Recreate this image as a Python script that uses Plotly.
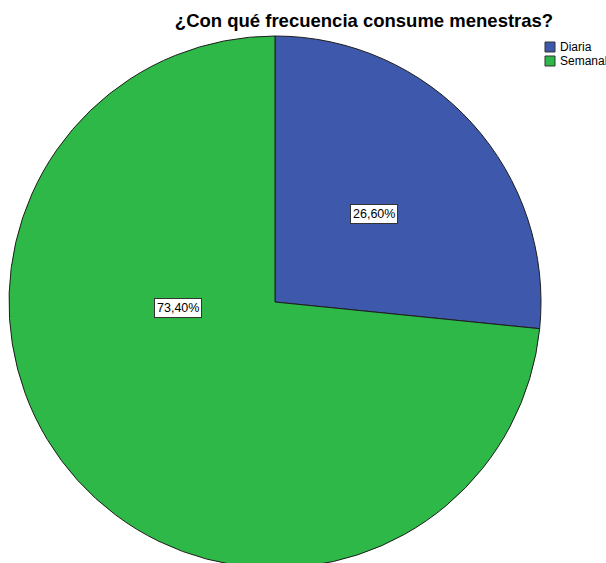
import plotly.graph_objects as go

# Survey answers: how often lentils/legumes ("menestras") are eaten
categories = ["Diaria", "Semanal"]
percentages = [26.6, 73.4]
colors = ["#3E58AC", "#2EB848"]

W, H = 606, 580
FONT = "Liberation Sans, Arial, Helvetica, sans-serif"


def px_x(x):
    return x / W


def px_y(y):
    return 1 - y / H


# Pie occupies a square of 532 px centred at (275, 302)
cx, cy, r = 275, 302, 266
domain_x = [px_x(cx - r), px_x(cx + r)]
domain_y = [px_y(cy + r), px_y(cy - r)]

fig = go.Figure(
    go.Pie(
        labels=categories,
        values=percentages,
        sort=False,
        direction="clockwise",
        rotation=0,
        marker=dict(colors=colors, line=dict(color="#1e1e1e", width=1)),
        textinfo="none",
        hoverinfo="label+percent",
        domain=dict(x=domain_x, y=domain_y),
        showlegend=False,
    )
)

# Boxed percentage labels inside the slices
label_pos = [(373.5, 214), (177.5, 307.5)]
for v, (lx, ly) in zip(percentages, label_pos):
    fig.add_annotation(
        x=px_x(lx), y=px_y(ly), xref="paper", yref="paper",
        text=f"{v:.2f}".replace(".", ",") + "%",
        showarrow=False, xanchor="center", yanchor="middle",
        font=dict(family=FONT, size=12.5, color="#000000"),
        bgcolor="#ffffff", bordercolor="#333333", borderwidth=1, borderpad=2,
    )

# Legend drawn as swatches with labels in the top-right corner
for i, (name, col) in enumerate(zip(categories, colors)):
    top = 42 + i * 14
    fig.add_shape(
        type="rect", xref="paper", yref="paper",
        x0=px_x(545), x1=px_x(555), y0=px_y(top + 10), y1=px_y(top),
        fillcolor=col, line=dict(color="#333333", width=1),
    )
    fig.add_annotation(
        x=px_x(558), y=px_y(top + 5), xref="paper", yref="paper",
        text=name, showarrow=False, xanchor="left", yanchor="middle",
        font=dict(family=FONT, size=12, color="#000000"),
    )

fig.update_layout(
    width=W, height=H,
    margin=dict(l=0, r=0, t=0, b=0),
    paper_bgcolor="#ffffff",
    plot_bgcolor="#ffffff",
    title=dict(
        text="<b>¿Con qué frecuencia consume menestras?</b>",
        x=px_x(364), xanchor="center",
        y=1 - 21 / H, yanchor="middle", yref="container",
        font=dict(family=FONT, size=18.5, color="#000000"),
    ),
)

fig.write_html(
    "out.html",
    post_script="document.documentElement.style.overflow='hidden';"
    "document.body.style.overflow='hidden';document.body.style.margin='0';",
)
